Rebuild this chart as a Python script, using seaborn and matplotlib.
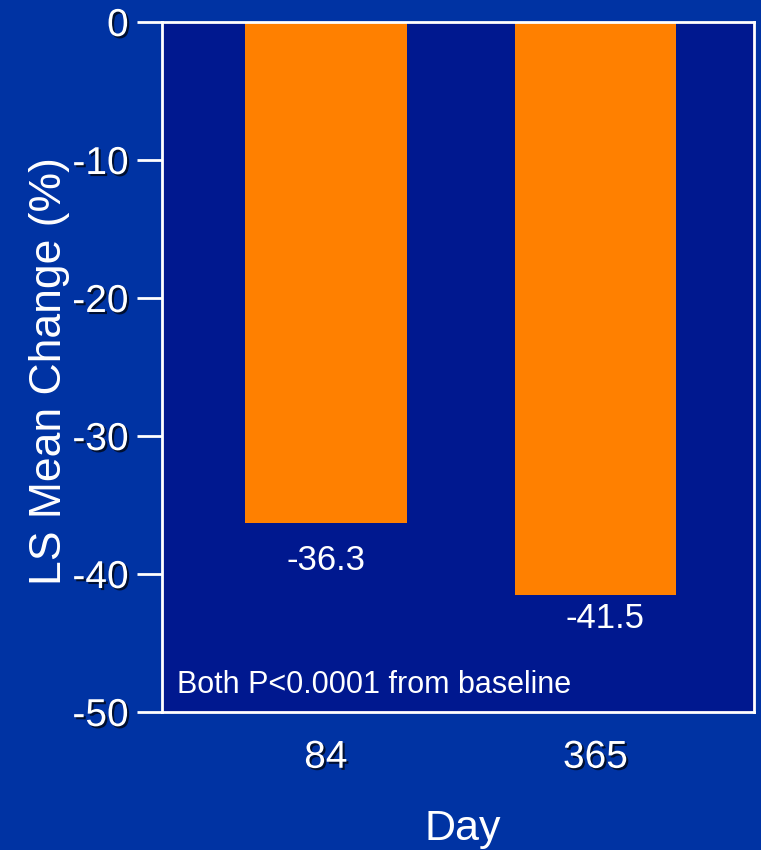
import matplotlib
matplotlib.use("Agg")
import matplotlib.pyplot as plt
import matplotlib.patheffects as pe
import seaborn as sns
import pandas as pd

days = ["84", "365"]
ls_mean_change = [-36.3, -41.5]
value_labels = ["-36.3", "-41.5"]
y_ticks = [0, -10, -20, -30, -40, -50]
note = "Both P<0.0001 from baseline"

bg = "#0033A3"
panel = "#00188F"
orange = "#FF8000"

plt.rcParams['font.family'] = ['Liberation Sans', 'DejaVu Sans']

df = pd.DataFrame({"Day": days, "Change": ls_mean_change})

fig = plt.figure(figsize=(7.61, 8.5), dpi=100, facecolor=bg)
ax = fig.add_axes([162/761, 1 - 712/850, (754-162)/761, (712-22)/850])
ax.set_facecolor(panel)

sns.barplot(data=df, x="Day", y="Change", order=days, color=orange,
            saturation=1, width=0.6, ax=ax, edgecolor="none")

ax.set_xlim(-0.608, 1.588)
ax.set_ylim(-50, 0)
ax.set_yticks(y_ticks)

shadow = [pe.withSimplePatchShadow(offset=(1.5, -1.5), shadow_rgbFace="black", alpha=0.7)]

ax.set_yticklabels([str(t) for t in y_ticks], fontsize=28, color="white")
ax.set_xticklabels(days, fontsize=28, color="white")
for lab in ax.get_yticklabels() + ax.get_xticklabels():
    lab.set_path_effects(shadow)

ax.tick_params(axis="y", length=18, width=2, color="white", pad=6)
ax.tick_params(axis="x", length=0, pad=20)

for s in ax.spines.values():
    s.set_color("white")
    s.set_linewidth(2)

ax.set_ylabel("LS Mean Change (%)", fontsize=32, color="white", labelpad=4)
ax.set_xlabel("Day", fontsize=31, color="white", labelpad=24)
ax.yaxis.set_label_coords(-0.156, 0.494)
ax.xaxis.label.set_x(0.508)

label_drop = [2.7, 1.7]
offsets = [0.0, 0.035]
for i, (v, lab) in enumerate(zip(ls_mean_change, value_labels)):
    ax.text(i + offsets[i], v - label_drop[i], lab, ha="center", va="center",
            fontsize=25, color="white")

ax.text(0.025, 0.018, note, transform=ax.transAxes, fontsize=22,
        color="white", ha="left", va="bottom")

fig.savefig("out.png", dpi=100, facecolor=bg)
